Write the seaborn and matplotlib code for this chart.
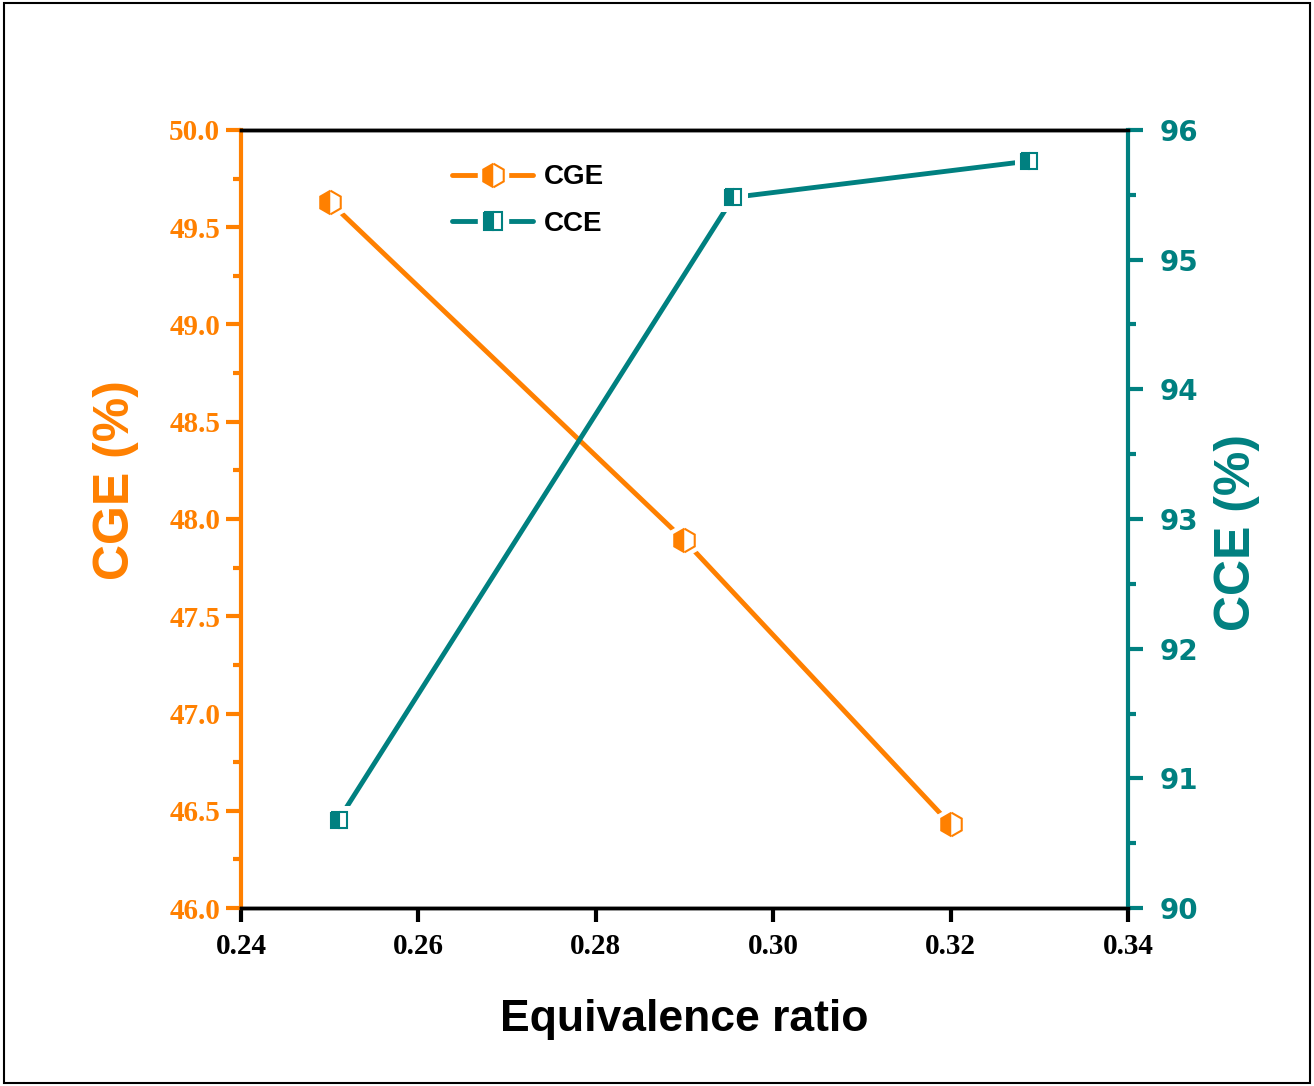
import matplotlib
matplotlib.use("Agg")
import matplotlib.pyplot as plt
import matplotlib.patches as mpatches
from matplotlib.lines import Line2D
from matplotlib.legend_handler import HandlerTuple
from matplotlib.ticker import MultipleLocator
import seaborn as sns

# data
cge_ratio = [0.25, 0.29, 0.32]
cge_vals = [49.63, 47.89, 46.43]
cce_ratio = [0.251, 0.2955, 0.3288]
cce_vals = [90.68, 95.48, 95.76]

x_ticks = [0.24, 0.26, 0.28, 0.30, 0.32, 0.34]
cge_ticks = [46.0, 46.5, 47.0, 47.5, 48.0, 48.5, 49.0, 49.5, 50.0]
cce_ticks = [90, 91, 92, 93, 94, 95, 96]

orange = "#FF8000"
teal = "#008080"

sns.set_style("ticks")
plt.rcParams['font.family'] = ['Liberation Sans', 'DejaVu Sans']
plt.rcParams['text.color'] = 'black'

fig = plt.figure(figsize=(13.14, 10.86), dpi=100)
ax = fig.add_axes([0.1834, 0.1639, 0.675, 0.7164])
ax2 = ax.twinx()


def styled(color, marker, size):
    return dict(marker=marker, markersize=size, fillstyle="left",
                markeredgecolor=color, markerfacecolor=color,
                markerfacecoloralt="white", markeredgewidth=1.5)


def draw_series(axis, x, y, color, marker, size):
    # line, then a white halo so the line stops short of each marker, then the marker
    sns.lineplot(x=x, y=y, ax=axis, color=color, lw=3.5, zorder=2)
    sns.lineplot(x=x, y=y, ax=axis, lw=0, marker=marker, markersize=size + 8,
                 markerfacecolor='white', markeredgecolor='white', zorder=3)
    sns.lineplot(x=x, y=y, ax=axis, lw=0, zorder=4, **styled(color, marker, size))


draw_series(ax, cge_ratio, cge_vals, orange, "h", 17)
draw_series(ax2, cce_ratio, cce_vals, teal, "s", 12)

ax.set_xlim(0.24, 0.34)
ax.set_ylim(46.0, 50.0)
ax2.set_ylim(90, 96)

serif_bold = dict(fontfamily='Liberation Serif', fontweight='bold', fontsize=21)
ax.set_xticks(x_ticks, [f"{v:.2f}" for v in x_ticks], color='black', **serif_bold)
ax.set_yticks(cge_ticks, [f"{v:.1f}" for v in cge_ticks], color=orange, **serif_bold)
ax2.set_yticks(cce_ticks, [str(v) for v in cce_ticks], color=teal,
               fontfamily='DejaVu Sans', fontweight='bold', fontsize=20)
ax.yaxis.set_minor_locator(MultipleLocator(0.25))
ax2.yaxis.set_minor_locator(MultipleLocator(0.5))

for sp in ['top', 'bottom']:
    ax.spines[sp].set_linewidth(2.5)
    ax.spines[sp].set_color('black')
    ax2.spines[sp].set_linewidth(2.5)
    ax2.spines[sp].set_color('black')
ax2.spines['left'].set_visible(False)
ax.spines['right'].set_visible(False)
ax.spines['left'].set_color(orange)
ax.spines['left'].set_linewidth(3)
ax2.spines['right'].set_color(teal)
ax2.spines['right'].set_linewidth(3)

ax.tick_params(axis='x', which='major', direction='out', length=10, width=3, color='black', pad=8)
ax.tick_params(axis='y', which='major', direction='out', length=11, width=3, color=orange, pad=4)
ax.tick_params(axis='y', which='minor', direction='out', length=6, width=3, color=orange)
ax2.tick_params(axis='y', which='major', direction='out', length=11, width=3, color=teal, pad=12)
ax2.tick_params(axis='y', which='minor', direction='out', length=6, width=3, color=teal)

ax.set_xlabel("Equivalence ratio", fontsize=32, fontweight='bold', color='black', labelpad=28)
ax.set_ylabel("CGE (%)", fontsize=36, fontweight='bold', color=orange)
ax2.set_ylabel("CCE (%)", fontsize=36, fontweight='bold', color=teal)
ax.yaxis.set_label_coords(-0.115, 0.55)
ax2.yaxis.set_label_coords(1.097, 0.483)


def legend_handle(color, marker, size):
    return (Line2D([], [], color=color, lw=3.5),
            Line2D([], [], lw=0, marker=marker, markersize=size + 8,
                   markerfacecolor='white', markeredgecolor='white'),
            Line2D([], [], lw=0, **styled(color, marker, size)))


handles = [legend_handle(orange, "h", 17), legend_handle(teal, "s", 13)]
leg = ax.legend(handles, ["CGE", "CCE"], loc='upper left', bbox_to_anchor=(0.21, 0.988),
                frameon=False, prop={'family': 'Liberation Sans', 'weight': 'bold', 'size': 20},
                handlelength=2.9, labelspacing=0.75, handletextpad=0.4,
                handler_map={tuple: HandlerTuple(ndivide=1, pad=0)})
for t in leg.get_texts():
    t.set_color('black')

fig.patches.append(mpatches.Rectangle((0.003, 0.003), 0.994, 0.994, transform=fig.transFigure,
                                      fill=False, edgecolor='black', lw=1.5))

fig.savefig("out.png", dpi=100)
